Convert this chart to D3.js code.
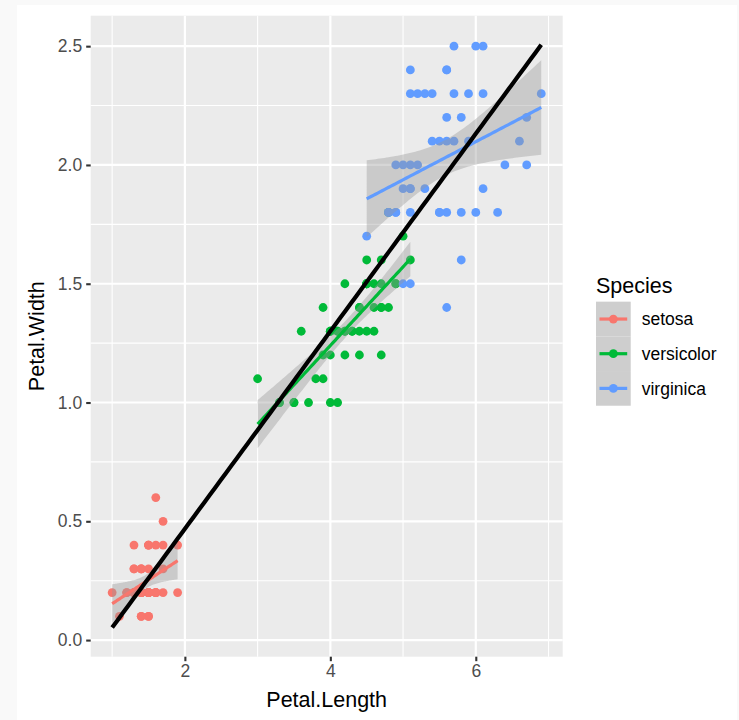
<!DOCTYPE html>
<html>
<head>
<meta charset="utf-8">
<script src="https://cdn.jsdelivr.net/npm/d3@7"></script>
<style>
  html, body { margin: 0; padding: 0; background: #f9f9f9; }
  svg { display: block; }
  text { font-family: "Liberation Sans", Arial, Helvetica, sans-serif; }
</style>
</head>
<body>
<svg id="chart" width="739" height="720"></svg>
<script>
// Iris petal measurements, one pair of arrays per species
const species = ["setosa", "versicolor", "virginica"];
const speciesColors = ["#F8766D", "#00BA38", "#619CFF"];

const setosaLength = [1.4,1.4,1.3,1.5,1.4,1.7,1.4,1.5,1.4,1.5,1.5,1.6,1.4,1.1,1.2,1.5,1.3,1.4,1.7,1.5,1.7,1.5,1.0,1.7,1.9,1.6,1.6,1.5,1.4,1.6,1.6,1.5,1.5,1.4,1.5,1.2,1.3,1.4,1.3,1.5,1.3,1.3,1.3,1.6,1.9,1.4,1.6,1.4,1.5,1.4];
const setosaWidth  = [0.2,0.2,0.2,0.2,0.2,0.4,0.3,0.2,0.2,0.1,0.2,0.2,0.1,0.1,0.2,0.4,0.4,0.3,0.3,0.3,0.2,0.4,0.2,0.5,0.2,0.2,0.4,0.2,0.2,0.2,0.2,0.4,0.1,0.2,0.2,0.2,0.2,0.1,0.2,0.2,0.3,0.3,0.2,0.6,0.4,0.3,0.2,0.2,0.2,0.2];

const versicolorLength = [4.7,4.5,4.9,4.0,4.6,4.5,4.7,3.3,4.6,3.9,3.5,4.2,4.0,4.7,3.6,4.4,4.5,4.1,4.5,3.9,4.8,4.0,4.9,4.7,4.3,4.4,4.8,5.0,4.5,3.5,3.8,3.7,3.9,5.1,4.5,4.5,4.7,4.4,4.1,4.0,4.4,4.6,4.0,3.3,4.2,4.2,4.2,4.3,3.0,4.1];
const versicolorWidth  = [1.4,1.5,1.5,1.3,1.5,1.3,1.6,1.0,1.3,1.4,1.0,1.5,1.0,1.4,1.3,1.4,1.5,1.0,1.5,1.1,1.8,1.3,1.5,1.2,1.3,1.4,1.4,1.7,1.5,1.0,1.1,1.0,1.2,1.6,1.5,1.6,1.5,1.3,1.3,1.3,1.2,1.4,1.2,1.0,1.3,1.2,1.3,1.3,1.1,1.3];

const virginicaLength = [6.0,5.1,5.9,5.6,5.8,6.6,4.5,6.3,5.8,6.1,5.1,5.3,5.5,5.0,5.1,5.3,5.5,6.7,6.9,5.0,5.7,4.9,6.7,4.9,5.7,6.0,4.8,4.9,5.6,5.8,6.1,6.4,5.6,5.1,5.6,6.1,5.6,5.5,4.8,5.4,5.6,5.1,5.1,5.9,5.7,5.2,5.0,5.2,5.4,5.1];
const virginicaWidth  = [2.5,1.9,2.1,1.8,2.2,2.1,1.7,1.8,1.8,2.5,2.0,1.9,2.1,2.0,2.4,2.3,1.8,2.2,2.3,1.5,2.3,2.0,2.0,1.8,2.1,1.8,1.8,1.8,2.1,1.6,1.9,2.0,2.2,1.5,1.4,2.3,2.4,1.8,1.8,2.1,2.4,2.3,1.9,2.3,2.5,2.3,1.9,2.0,2.3,1.8];

const xTicks = [2, 4, 6];
const xMinor = [1, 3, 5, 7];
const yTicks = [0, 0.5, 1.0, 1.5, 2.0, 2.5];
const yMinor = [0.25, 0.75, 1.25, 1.75, 2.25];

// t quantile (0.975, df = 48) for the 95% confidence band of each per-species fit
const T975_DF48 = 2.010635;

const lengths = [setosaLength, versicolorLength, virginicaLength];
const widths = [setosaWidth, versicolorWidth, virginicaWidth];

const groups = species.map((s, i) => ({
  species: s,
  color: speciesColors[i],
  points: lengths[i].map((x, j) => ({ x, y: widths[i][j] }))
}));
const allPoints = groups.flatMap(g => g.points);

// Ordinary least squares with standard errors for the fitted mean
function linearFit(pts) {
  const n = pts.length;
  const mx = d3.mean(pts, d => d.x), my = d3.mean(pts, d => d.y);
  const sxx = d3.sum(pts, d => (d.x - mx) ** 2);
  const sxy = d3.sum(pts, d => (d.x - mx) * (d.y - my));
  const slope = sxy / sxx, intercept = my - slope * mx;
  const rss = d3.sum(pts, d => (d.y - intercept - slope * d.x) ** 2);
  const s = Math.sqrt(rss / (n - 2));
  return {
    predict: x => intercept + slope * x,
    se: x => s * Math.sqrt(1 / n + (x - mx) ** 2 / sxx),
    xmin: d3.min(pts, d => d.x), xmax: d3.max(pts, d => d.x)
  };
}

function smoothCurve(fit, withBand) {
  const N = 80, out = [];
  for (let k = 0; k < N; k++) {
    const x = fit.xmin + (fit.xmax - fit.xmin) * k / (N - 1);
    const y = fit.predict(x);
    const h = withBand ? T975_DF48 * fit.se(x) : 0;
    out.push({ x, y, lo: y - h, hi: y + h });
  }
  return out;
}

groups.forEach(g => { g.curve = smoothCurve(linearFit(g.points), true); });
const overall = smoothCurve(linearFit(allPoints), false);

// Layout
const panel = { left: 90.7, right: 562.7, top: 15.7, bottom: 656.7 };

function expand(ext) { const r = ext[1] - ext[0]; return [ext[0] - 0.05 * r, ext[1] + 0.05 * r]; }
const xExt = d3.extent(allPoints, d => d.x);
const yVals = allPoints.map(d => d.y)
  .concat(groups.flatMap(g => g.curve.flatMap(c => [c.lo, c.hi])))
  .concat(overall.map(c => c.y));
const yExt = d3.extent(yVals);

const x = d3.scaleLinear().domain(expand(xExt)).range([panel.left, panel.right]);
const y = d3.scaleLinear().domain(expand(yExt)).range([panel.bottom, panel.top]);

const svg = d3.select("#chart");

// White plot area
svg.append("rect").attr("x", 17).attr("y", 5).attr("width", 720).attr("height", 715).attr("fill", "#ffffff");

// Panel background
svg.append("rect")
  .attr("x", panel.left).attr("y", panel.top)
  .attr("width", panel.right - panel.left).attr("height", panel.bottom - panel.top)
  .attr("fill", "#ebebeb");

const grid = svg.append("g");
grid.selectAll(".xminor").data(xMinor).join("line")
  .attr("x1", d => x(d)).attr("x2", d => x(d)).attr("y1", panel.top).attr("y2", panel.bottom)
  .attr("stroke", "#ffffff").attr("stroke-width", 1.1);
grid.selectAll(".yminor").data(yMinor).join("line")
  .attr("y1", d => y(d)).attr("y2", d => y(d)).attr("x1", panel.left).attr("x2", panel.right)
  .attr("stroke", "#ffffff").attr("stroke-width", 1.1);
grid.selectAll(".xmajor").data(xTicks).join("line")
  .attr("x1", d => x(d)).attr("x2", d => x(d)).attr("y1", panel.top).attr("y2", panel.bottom)
  .attr("stroke", "#ffffff").attr("stroke-width", 2.2);
grid.selectAll(".ymajor").data(yTicks).join("line")
  .attr("y1", d => y(d)).attr("y2", d => y(d)).attr("x1", panel.left).attr("x2", panel.right)
  .attr("stroke", "#ffffff").attr("stroke-width", 2.2);

// Points
const plot = svg.append("g");
groups.forEach(g => {
  plot.append("g").selectAll("circle").data(g.points).join("circle")
    .attr("cx", d => x(d.x)).attr("cy", d => y(d.y)).attr("r", 4.4)
    .attr("fill", g.color);
});

// Per-species fits with confidence bands
const area = d3.area().x(d => x(d.x)).y0(d => y(d.lo)).y1(d => y(d.hi));
const line = d3.line().x(d => x(d.x)).y(d => y(d.y));
groups.forEach(g => {
  plot.append("path").datum(g.curve).attr("d", area)
    .attr("fill", "#999999").attr("fill-opacity", 0.4);
  plot.append("path").datum(g.curve).attr("d", line)
    .attr("fill", "none").attr("stroke", g.color).attr("stroke-width", 3.2);
});

// Overall fit
plot.append("path").datum(overall).attr("d", line)
  .attr("fill", "none").attr("stroke", "#000000").attr("stroke-width", 4.2);

// Axes
const xAxis = svg.append("g").attr("transform", `translate(0,${panel.bottom})`)
  .call(d3.axisBottom(x).tickValues(xTicks).tickFormat(d3.format("d")).tickSize(4.5).tickPadding(3));
const yAxis = svg.append("g").attr("transform", `translate(${panel.left},0)`)
  .call(d3.axisLeft(y).tickValues(yTicks).tickFormat(d3.format(".1f")).tickSize(4.5).tickPadding(4));
[xAxis, yAxis].forEach(a => {
  a.select(".domain").remove();
  a.selectAll(".tick line").attr("stroke", "#333333").attr("stroke-width", 2.1);
  a.selectAll(".tick text").attr("fill", "#4d4d4d").style("font-size", "17.5px")
    .style("font-family", '"Liberation Sans", Arial, sans-serif');
});

// Axis titles
svg.append("text").attr("x", (panel.left + panel.right) / 2).attr("y", 706.5)
  .attr("text-anchor", "middle").style("font-size", "21.5px").attr("fill", "#000").text("Petal.Length");
svg.append("text").attr("transform", `translate(43.5,${(panel.top + panel.bottom) / 2}) rotate(-90)`)
  .attr("text-anchor", "middle").style("font-size", "21.5px").attr("fill", "#000").text("Petal.Width");

// Legend
const legend = svg.append("g");
legend.append("text").attr("x", 596).attr("y", 292.5).style("font-size", "21.5px").attr("fill", "#000").text("Species");
const keyTop = 301.7, keyH = 34.67, keyX = 596, keyW = 34.7;
const keys = legend.selectAll(".key").data(groups).join("g")
  .attr("transform", (d, i) => `translate(${keyX},${keyTop + i * keyH})`);
keys.append("rect").attr("width", keyW).attr("height", keyH).attr("fill", "#f2f2f2");
keys.append("rect").attr("width", keyW).attr("height", keyH).attr("fill", "#999999").attr("fill-opacity", 0.4);
keys.append("line").attr("x1", 3.5).attr("x2", keyW - 3.5).attr("y1", keyH / 2).attr("y2", keyH / 2)
  .attr("stroke", d => d.color).attr("stroke-width", 3.2);
keys.append("circle").attr("cx", keyW / 2).attr("cy", keyH / 2).attr("r", 4.4).attr("fill", d => d.color);
keys.append("text").attr("x", keyW + 11).attr("y", keyH / 2 + 6.2)
  .style("font-size", "17.5px").attr("fill", "#000").text(d => d.species);
</script>
</body>
</html>
